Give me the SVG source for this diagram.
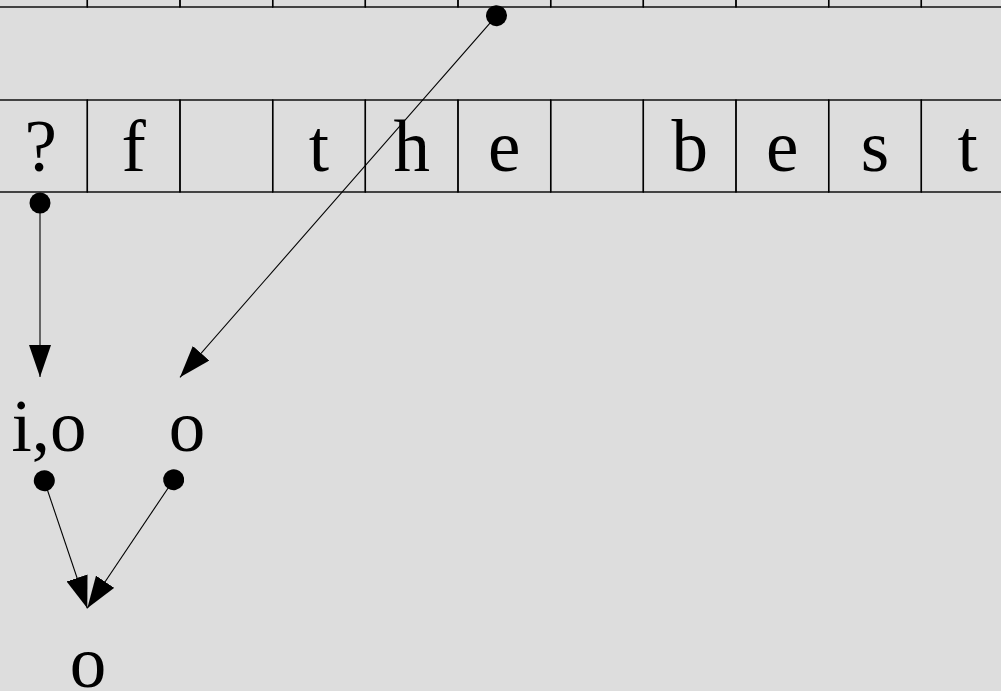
<svg xmlns="http://www.w3.org/2000/svg" width="1001" height="691" viewBox="0 0 1001 691">
<style>
.cell{fill:none;stroke:#000;stroke-width:1.4}
.t{font-family:"Liberation Serif","Times New Roman",serif;font-size:73px;fill:#000;text-anchor:middle}
.c{stroke:#000;stroke-width:1.1;fill:none;marker-start:url(#dot);marker-end:url(#arr)}
</style>
<defs>
<marker id="arr" markerUnits="userSpaceOnUse" viewBox="0 0 32 22" refX="32" refY="11" markerWidth="32" markerHeight="22" orient="auto"><path d="M0,0 L32,11 L0,22 z" fill="#000"/></marker>
<marker id="dot" markerUnits="userSpaceOnUse" viewBox="-11 -11 22 22" refX="0" refY="0" markerWidth="22" markerHeight="22" orient="auto"><circle r="10.5" fill="#000"/></marker>
</defs>
<rect width="1001" height="691" fill="#dddddd"/>
<g id="top-row">
<rect class="cell" x="-5.3" y="-85" width="92.67" height="92"/>
<rect class="cell" x="87.3" y="-85" width="92.67" height="92"/>
<rect class="cell" x="180" y="-85" width="92.67" height="92"/>
<rect class="cell" x="272.7" y="-85" width="92.67" height="92"/>
<rect class="cell" x="365.3" y="-85" width="92.67" height="92"/>
<rect class="cell" x="458" y="-85" width="92.67" height="92"/>
<rect class="cell" x="550.7" y="-85" width="92.67" height="92"/>
<rect class="cell" x="643.3" y="-85" width="92.67" height="92"/>
<rect class="cell" x="736" y="-85" width="92.67" height="92"/>
<rect class="cell" x="828.7" y="-85" width="92.67" height="92"/>
<rect class="cell" x="921.3" y="-85" width="92.67" height="92"/>
</g>
<g id="cell0"><rect class="cell" x="-5.3" y="100" width="92.67" height="92"/><text class="t" x="40.7" y="171">?</text></g>
<g id="cell1"><rect class="cell" x="87.3" y="100" width="92.67" height="92"/><text class="t" x="133.7" y="171">f</text></g>
<g id="cell2"><rect class="cell" x="180" y="100" width="92.67" height="92"/></g>
<g id="cell3"><rect class="cell" x="272.7" y="100" width="92.67" height="92"/><text class="t" x="319" y="171">t</text></g>
<g id="cell4"><rect class="cell" x="365.3" y="100" width="92.67" height="92"/><text class="t" x="411.7" y="171">h</text></g>
<g id="cell5"><rect class="cell" x="458" y="100" width="92.67" height="92"/><text class="t" x="504.3" y="171">e</text></g>
<g id="cell6"><rect class="cell" x="550.7" y="100" width="92.67" height="92"/></g>
<g id="cell7"><rect class="cell" x="643.3" y="100" width="92.67" height="92"/><text class="t" x="689.7" y="171">b</text></g>
<g id="cell8"><rect class="cell" x="736" y="100" width="92.67" height="92"/><text class="t" x="782.3" y="171">e</text></g>
<g id="cell9"><rect class="cell" x="828.7" y="100" width="92.67" height="92"/><text class="t" x="875" y="171">s</text></g>
<g id="cell10"><rect class="cell" x="921.3" y="100" width="92.67" height="92"/><text class="t" x="967.7" y="171">t</text></g>
<g id="node-io"><text class="t" x="49" y="451">i,o</text></g>
<g id="node-o1"><text class="t" x="187" y="451">o</text></g>
<g id="node-o2"><text class="t" x="88" y="687">o</text></g>
<g id="connectors">
<line class="c" x1="40" y1="203" x2="40" y2="377"/>
<line class="c" x1="496.5" y1="15.7" x2="180" y2="377.3"/>
<line class="c" x1="44.3" y1="480.7" x2="87.3" y2="608.3"/>
<line class="c" x1="173.7" y1="479.7" x2="87.3" y2="608.3"/>
</g>
</svg>
